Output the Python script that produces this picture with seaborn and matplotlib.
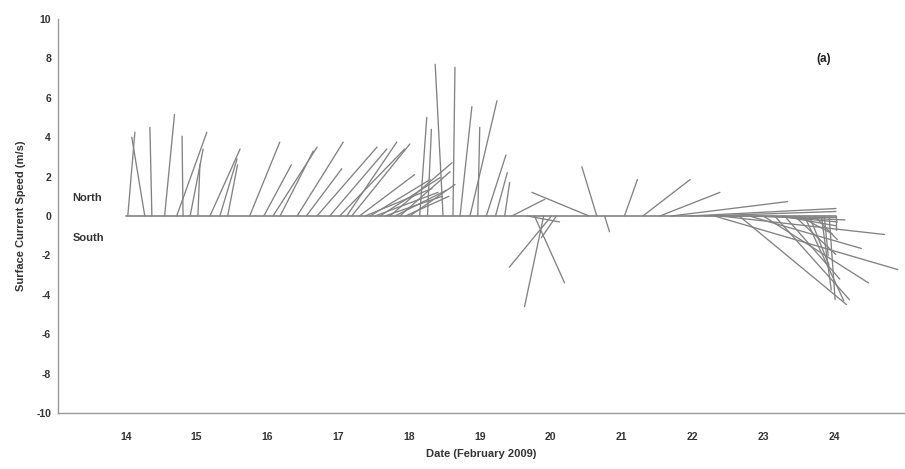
import numpy as np
import pandas as pd
import matplotlib
matplotlib.use("Agg")
import matplotlib.pyplot as plt
import seaborn as sns

# ---- data: stick base time (day of Feb 2009), east (u) and north (v) components (m/s)
t = [14.03, 14.27, 14.37, 14.55, 14.72, 14.81, 14.91, 15.02, 15.19, 15.33, 15.44,
     15.75, 15.95, 16.08, 16.18, 16.42, 16.55, 16.70, 16.88, 17.02, 17.12, 17.19,
     17.30, 17.38, 17.45, 17.52, 17.59, 17.66, 17.73, 17.80, 17.87, 17.95, 18.01,
     18.15, 18.26, 18.48, 18.62, 18.72, 18.86, 18.97, 19.09, 19.22, 19.35,
     19.45, 19.67, 19.77, 19.90, 20.01, 20.08, 20.54, 20.65, 20.76,
     21.04, 21.30, 21.54, 21.70, 21.96, 22.17, 22.31, 22.39, 22.52, 22.66,
     22.80, 22.90, 23.00, 23.10, 23.16, 23.25, 23.30, 23.44, 23.50, 23.58,
     23.65, 23.72, 23.82, 23.86, 23.93, 24.02]
u = [0.36, -0.66, -0.10, 0.50, 1.53, -0.05, 0.66, 0.10, 1.53, 0.87, 0.50,
     1.53, 1.40, 2.24, 1.68, 2.34, 1.80, 3.05, 2.90, 3.30, 2.54, 2.95,
     2.80, 3.40, 3.05, 3.20, 3.05, 2.90, 3.15, 2.60, 2.55, 2.20, 2.30,
     0.36, 0.20, -0.40, 0.10, 0.60, 1.37, 0.10, 1.00, 0.60, 0.25,
     1.68, 1.63, 1.53, -0.97, -2.14, -0.76, -2.90, -0.76, 0.25,
     0.66, 2.40, 3.05, 5.90, 7.43, 6.67, 9.31, 8.35, 5.40, 5.45,
     5.70, 4.50, 5.34, 3.40, 3.80, 2.80, 2.80, 2.10, 1.70, 2.00,
     1.00, 1.17, 0.50, 0.20, 0.30, 0.00]
v = [4.25, 4.00, 4.50, 5.15, 4.25, 4.05, 3.40, 2.60, 3.40, 2.90, 2.60,
     3.75, 2.60, 3.50, 3.30, 3.75, 2.40, 3.50, 3.40, 3.40, 3.75, 3.65,
     2.10, 1.40, 1.85, 1.20, 1.95, 1.00, 2.70, 1.30, 2.25, 1.00, 1.60,
     5.00, 4.40, 7.70, 7.55, 5.55, 5.85, 4.50, 3.10, 2.20, 1.70,
     0.85, -0.30, -3.40, -4.60, -2.60, -1.10, 1.20, 2.50, -0.80,
     1.85, 1.85, 1.20, 0.73, 0.38, 0.23, -2.72, -0.94, -0.08, -4.50,
     -1.65, -0.20, -3.40, -0.30, -4.25, -0.50, -3.20, -1.95, -0.90, -4.30,
     -2.50, -1.20, -3.75, -2.00, -4.25, -0.70]

xticks = list(range(14, 25))
yticks = list(range(-10, 11, 2))

# ---- figure geometry
W, H, DPI = 905, 469, 100
fig = plt.figure(figsize=(W / DPI, H / DPI), dpi=DPI)
sns.set_style("white")
plt.rcParams['font.family'] = ['Liberation Sans', 'DejaVu Sans']

ax_l, ax_r, ax_t, ax_b = 58, 905, 19, 413
ax = fig.add_axes([ax_l / W, 1 - ax_b / H, (ax_r - ax_l) / W, (ax_b - ax_t) / H])
xlim = (13.045, 25.0)
ylim = (-10, 10)

# x-offset in days per 1 m/s so sticks keep true direction on screen
px_per_unit_y = (ax_b - ax_t) / (ylim[1] - ylim[0])
px_per_day = (ax_r - ax_l) / (xlim[1] - xlim[0])
K = px_per_unit_y / px_per_day

rows = []
for i, (ti, ui, vi) in enumerate(zip(t, u, v)):
    rows.append({"stick": i, "x": ti, "y": 0.0})
    rows.append({"stick": i, "x": ti + ui * K, "y": vi})
df = pd.DataFrame(rows)

col = "#828282"
sns.lineplot(data=df, x="x", y="y", units="stick", estimator=None, sort=False,
             color=col, linewidth=0.95, ax=ax, legend=False)
base = pd.DataFrame({"x": [14.0, 24.02], "y": [0, 0]})
sns.lineplot(data=base, x="x", y="y", color=col, linewidth=1.2, ax=ax, legend=False)

ax.set_xlim(*xlim)
ax.set_ylim(*ylim)
ax.set_xticks(xticks)
ax.set_yticks(yticks)
ax.set_xticklabels([str(x) for x in xticks])
ax.set_yticklabels([str(y) for y in yticks])
ax.tick_params(direction="in", length=4, width=0.8, colors="#999999",
               labelcolor="#333333", labelsize=7.5)
ax.tick_params(axis="x", pad=14)
ax.tick_params(axis="y", pad=5)
for lab in ax.get_xticklabels() + ax.get_yticklabels():
    lab.set_fontweight("bold")
sns.despine(ax=ax, top=True, right=True)
for s in ("left", "bottom"):
    ax.spines[s].set_color("#999999")
    ax.spines[s].set_linewidth(1.0)

ax.set_xlabel("Date (February 2009)", fontsize=8, fontweight="bold", color="#333333", labelpad=5)
ax.set_ylabel("Surface Current Speed (m/s)", fontsize=8, fontweight="bold", color="#333333", labelpad=7)

ax.text(13.25, 0.9, "North", fontsize=8, fontweight="bold", color="#333333", va="center")
ax.text(13.25, -1.1, "South", fontsize=8, fontweight="bold", color="#333333", va="center")
ax.text(23.75, 7.95, "(a)", fontsize=8.5, fontweight="bold", color="#222222", va="center")

fig.savefig("out.png", dpi=DPI)
